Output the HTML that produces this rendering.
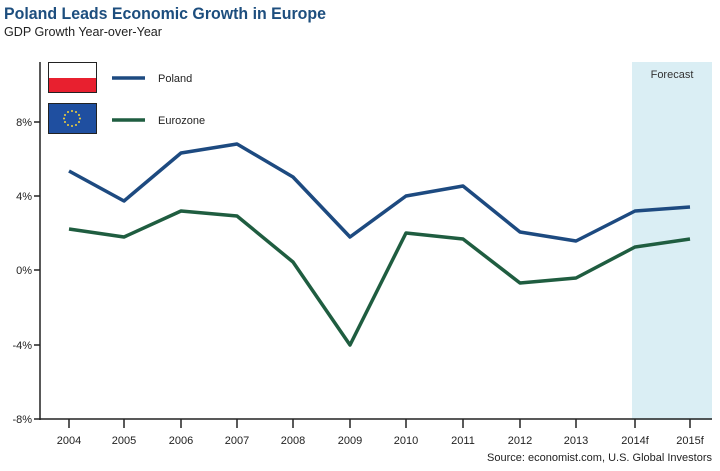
<!DOCTYPE html>
<html><head><style>
body{margin:0;background:#fff;width:720px;height:466px;overflow:hidden;font-family:"Liberation Sans",sans-serif;}
</style></head><body>
<svg width="720" height="466" viewBox="0 0 720 466" font-family="Liberation Sans, sans-serif">
<text x="4" y="19" font-size="17" font-weight="bold" fill="#1d4e7e" textLength="322" lengthAdjust="spacingAndGlyphs">Poland Leads Economic Growth in Europe</text>
<text x="4" y="36" font-size="13" fill="#222" textLength="158" lengthAdjust="spacingAndGlyphs">GDP Growth Year-over-Year</text>
<rect x="632" y="62" width="80" height="358" fill="#daeef4"/>
<text x="672" y="78" font-size="11" fill="#333" text-anchor="middle">Forecast</text>
<g stroke="#222" stroke-width="1.5">
<line x1="40" y1="62" x2="40" y2="420"/>
<line x1="40" y1="419" x2="712" y2="419"/>
<line x1="34" y1="122" x2="40" y2="122"/><line x1="34" y1="196" x2="40" y2="196"/><line x1="34" y1="270" x2="40" y2="270"/><line x1="34" y1="345" x2="40" y2="345"/><line x1="34" y1="419" x2="40" y2="419"/>
<line x1="69" y1="419" x2="69" y2="428"/><line x1="124" y1="419" x2="124" y2="428"/><line x1="181" y1="419" x2="181" y2="428"/><line x1="237" y1="419" x2="237" y2="428"/><line x1="293" y1="419" x2="293" y2="428"/><line x1="350" y1="419" x2="350" y2="428"/><line x1="406" y1="419" x2="406" y2="428"/><line x1="463" y1="419" x2="463" y2="428"/><line x1="520" y1="419" x2="520" y2="428"/><line x1="576" y1="419" x2="576" y2="428"/><line x1="635" y1="419" x2="635" y2="428"/><line x1="690" y1="419" x2="690" y2="428"/>
</g>
<g font-size="11" fill="#222" text-anchor="end">
<text x="32" y="126">8%</text><text x="32" y="200">4%</text><text x="32" y="274">0%</text><text x="32" y="349">-4%</text><text x="32" y="423">-8%</text>
</g>
<g font-size="11" fill="#222" text-anchor="middle">
<text x="69" y="444">2004</text><text x="124" y="444">2005</text><text x="181" y="444">2006</text><text x="237" y="444">2007</text><text x="293" y="444">2008</text><text x="350" y="444">2009</text><text x="406" y="444">2010</text><text x="463" y="444">2011</text><text x="520" y="444">2012</text><text x="576" y="444">2013</text><text x="635" y="444">2014f</text><text x="690" y="444">2015f</text>
</g>
<text x="712" y="461" font-size="11" fill="#222" text-anchor="end">Source: economist.com, U.S. Global Investors</text>
<rect x="48.5" y="62.5" width="48" height="30" fill="#fff" stroke="#222"/>
<rect x="49" y="78" width="47" height="14" fill="#e8202f"/>
<rect x="48.5" y="103.5" width="48" height="30" fill="#1f4fa0" stroke="#222"/>
<g fill="#f3d33a">
<circle cx="72" cy="111" r="1"/><circle cx="76" cy="112" r="1"/><circle cx="79" cy="115" r="1"/><circle cx="80" cy="118.5" r="1"/><circle cx="79" cy="122" r="1"/><circle cx="76" cy="125" r="1"/><circle cx="72" cy="126" r="1"/><circle cx="68" cy="125" r="1"/><circle cx="65" cy="122" r="1"/><circle cx="64" cy="118.5" r="1"/><circle cx="65" cy="115" r="1"/><circle cx="68" cy="112" r="1"/>
</g>
<line x1="112" y1="78" x2="145" y2="78" stroke="#1d4a80" stroke-width="3.5"/>
<line x1="112" y1="120" x2="145" y2="120" stroke="#1f5d40" stroke-width="3.5"/>
<text x="158" y="82" font-size="11" fill="#222">Poland</text>
<text x="158" y="124" font-size="11" fill="#222">Eurozone</text>
<polyline fill="none" stroke="#1d4a80" stroke-width="3.5" stroke-linejoin="round" points="69,171 124,201 181,153 237,144 293,177 350,237 406,196 463,186 520,232 576,241 635,211 690,207"/>
<polyline fill="none" stroke="#1f5d40" stroke-width="3.5" stroke-linejoin="round" points="69,229 124,237 181,211 237,216 293,262 350,345 406,233 463,239 520,283 576,278 635,247 690,239"/>
</svg>
</body></html>
